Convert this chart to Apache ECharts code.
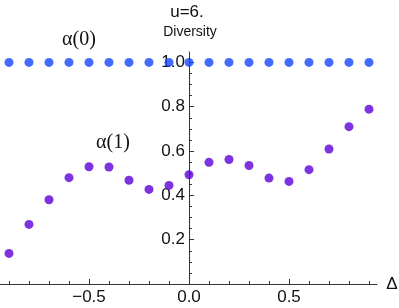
<!DOCTYPE html>
<html><head><meta charset="utf-8">
<script src="https://cdn.jsdelivr.net/npm/echarts@6/dist/echarts.min.js"></script>
<style>html,body{margin:0;padding:0;background:#fff}#c{width:399px;height:308px}</style>
</head><body><div id="c"></div>
<script>
const deltas = [-0.9,-0.8,-0.7,-0.6,-0.5,-0.4,-0.3,-0.2,-0.1,0.0,0.1,0.2,0.3,0.4,0.5,0.6,0.7,0.8,0.9];
const alpha0 = [1,1,1,1,1,1,1,1,1,1,1,1,1,1,1,1,1,1,1];
const alpha1 = [0.138,0.269,0.380,0.480,0.529,0.528,0.468,0.427,0.445,0.493,0.549,0.562,0.535,0.478,0.463,0.516,0.609,0.710,0.789];
const xTickLabels = [-0.5, 0.0, 0.5];
const yTickLabels = [0.2, 0.4, 0.6, 0.8, 1.0];
const yMinorTicks = [0.05,0.1,0.15,0.25,0.3,0.35,0.45,0.5,0.55,0.65,0.7,0.75,0.85,0.9,0.95,1.05];

const XMIN = -0.945, XMAX = 0.94, YMIN = 0, YMAX = 1.047;
const fmt = v => { const s = Math.abs(v).toFixed(1); return v < -1e-9 ? '\u2212' + s : s; };
const font = 'Liberation Sans, Arial, sans-serif';
const axisCol = '#333';
const nb = {containLabel: false, outerBoundsMode: 'none'};

// plot box: x from -0.945 (px 0) to 0.94 (px 377) -> 200 px per unit, x=0 at px 189
const box = Object.assign({left: 0, right: 22, top: 52, bottom: 24}, nb);
const xLineStrip = Object.assign({left: 0, right: 22, top: 284, height: 5}, nb);
const xMajorStrip = Object.assign({left: -11, width: 300, top: 284, height: 6}, nb);   // -1 .. 0.5
const xMinorStrip = Object.assign({left: -11, width: 380, top: 284, height: 7}, nb);   // -1 .. 0.9
const xLabelStrip = Object.assign({left: 0, right: 22, top: 279, height: 5}, nb);
const yBox = Object.assign({left: 189, width: 1, top: 52, bottom: 24}, nb);
const yBox2 = Object.assign({left: 189, width: 2, top: 52, bottom: 24}, nb);

const hs = (g) => ({type: 'value', gridIndex: g, min: 0, max: 1, show: false});

const chart = echarts.init(document.getElementById('c'), null, {renderer: 'canvas'});
const pair = (a) => deltas.map((d, i) => [d, a[i]]);
chart.setOption({
  animation: false,
  grid: [box, xLineStrip, xMajorStrip, xMinorStrip, xLabelStrip, yBox, yBox2],
  xAxis: [
    {type: 'value', gridIndex: 0, min: XMIN, max: XMAX, show: false},
    {type: 'value', gridIndex: 1, min: XMIN, max: XMAX, position: 'top',
     axisLine: {show: true, onZero: false, lineStyle: {color: axisCol, width: 1}},
     axisTick: {show: false}, axisLabel: {show: false}, splitLine: {show: false}},
    {type: 'value', gridIndex: 2, min: -1, max: 0.5, interval: 0.5, position: 'top',
     axisLine: {show: false, onZero: false},
     axisTick: {show: true, length: 5, lineStyle: {color: axisCol}},
     axisLabel: {show: false}, splitLine: {show: false}},
    {type: 'value', gridIndex: 3, min: -1, max: 0.9, interval: 0.1, position: 'top',
     axisLine: {show: false, onZero: false},
     axisTick: {show: true, length: 3, lineStyle: {color: axisCol}},
     axisLabel: {show: false}, splitLine: {show: false}},
    {type: 'value', gridIndex: 4, min: XMIN, max: XMAX, position: 'bottom',
     axisLine: {show: false, onZero: false}, axisTick: {show: false},
     axisLabel: {show: true, customValues: xTickLabels, formatter: fmt, fontSize: 17, color: '#111', fontFamily: font, margin: 5},
     splitLine: {show: false}},
    hs(5), hs(6)
  ],
  yAxis: [
    {type: 'value', gridIndex: 0, min: YMIN, max: YMAX, show: false},
    hs(1), hs(2), hs(3), hs(4),
    {type: 'value', gridIndex: 5, min: YMIN, max: YMAX, position: 'left',
     axisLine: {show: true, onZero: false, lineStyle: {color: axisCol, width: 1}},
     axisTick: {show: true, inside: true, length: 5, customValues: yTickLabels, lineStyle: {color: axisCol}},
     axisLabel: {show: true, customValues: yTickLabels, formatter: fmt, fontSize: 17, color: '#111', fontFamily: font, margin: 4},
     splitLine: {show: false}},
    {type: 'value', gridIndex: 6, min: YMIN, max: YMAX, position: 'left',
     axisLine: {show: false, onZero: false},
     axisTick: {show: true, inside: true, length: 3, customValues: yMinorTicks, lineStyle: {color: axisCol}},
     axisLabel: {show: false}, splitLine: {show: false}}
  ],
  series: [
    {type: 'scatter', xAxisIndex: 0, yAxisIndex: 0, data: pair(alpha1), symbolSize: 9, itemStyle: {color: 'rgb(92,0,215)'}, z: 3},
    {type: 'scatter', xAxisIndex: 0, yAxisIndex: 0, data: pair(alpha0), symbolSize: 9, itemStyle: {color: 'rgb(20,70,255)'}, z: 4}
  ],
  graphic: [
    {type: 'text', x: 187, y: 4, style: {text: 'u=6.', font: '17px ' + font, fill: '#111', align: 'center'}, z: 10},
    {type: 'text', x: 190, y: 25, style: {text: 'Diversity', font: '14px ' + font, fill: '#111', align: 'center'}, z: 10},
    {type: 'text', x: 79, y: 40, style: {text: 'α(0)', font: '20px Liberation Serif, Times New Roman, serif', fill: '#111', align: 'center', verticalAlign: 'middle'}, z: 10},
    {type: 'text', x: 113, y: 143, style: {text: 'α(1)', font: '20px Liberation Serif, Times New Roman, serif', fill: '#111', align: 'center', verticalAlign: 'middle'}, z: 10},
    {type: 'text', x: 392, y: 284, style: {text: 'Δ', font: '17px ' + font, fill: '#111', align: 'center', verticalAlign: 'middle'}, z: 10}
  ]
});
</script></body></html>
